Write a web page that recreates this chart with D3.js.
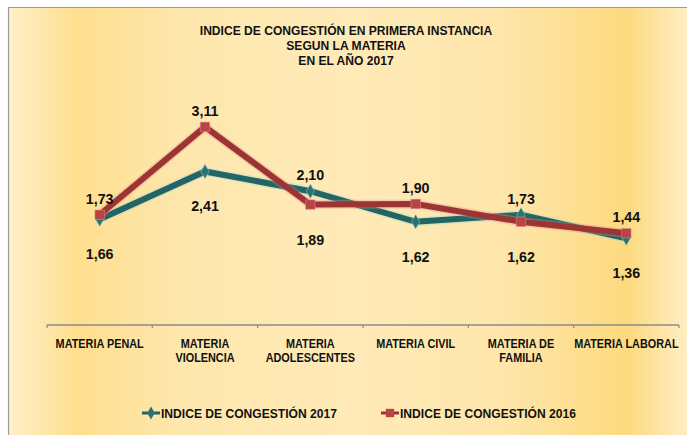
<!DOCTYPE html>
<html>
<head>
<meta charset="utf-8">
<script src="https://cdn.jsdelivr.net/npm/d3@7"></script>
<style>
  html, body { margin: 0; padding: 0; background: #fff; }
  svg text { font-family: "Liberation Sans Narrow", "Arial Narrow", "Liberation Sans", Arial, sans-serif; font-weight: bold; fill: #111; }
</style>
</head>
<body>
<div id="chart"></div>
<script>
// categories (line breaks as in the original axis)
const categories = [
    "MATERIA PENAL",
    "MATERIA\nVIOLENCIA",
    "MATERIA\nADOLESCENTES",
    "MATERIA CIVIL",
    "MATERIA DE\nFAMILIA",
    "MATERIA LABORAL"
];
const values2017 = [1.66, 2.41, 2.10, 1.62, 1.73, 1.36];
const values2016 = [1.73, 3.11, 1.89, 1.90, 1.62, 1.44];
const seriesNames = ["INDICE DE CONGESTIÓN 2017", "INDICE DE CONGESTIÓN 2016"];
const titleLines = [
    "INDICE DE CONGESTIÓN EN PRIMERA INSTANCIA",
    "SEGUN LA MATERIA",
    "EN EL AÑO 2017"
];

document.addEventListener("DOMContentLoaded", draw);

// squeeze text horizontally around its anchor x (no narrow font installed)
function narrow(x, sx) {
    return "translate(" + x * (1 - sx) + ",0) scale(" + sx + ",1)";
}

function draw() {
    const width = 687,
        height = 435;

    const svg = d3
        .select("#chart")
        .append("svg")
        .attr("width", width)
        .attr("height", height);

    // yellow gradient background, like the office chart
    const defs = svg.append("defs");
    const grad = defs
        .append("linearGradient")
        .attr("id", "bg")
        .attr("x1", "0%")
        .attr("x2", "100%")
        .attr("y1", "0%")
        .attr("y2", "0%");
    [
        [0, "#fff0c9"],
        [0.1, "#fedf8f"],
        [0.25, "#fee7ad"],
        [0.5, "#ffeab8"],
        [0.72, "#fee6ab"],
        [0.9, "#fdda7f"],
        [1, "#fff0cc"]
    ].forEach((s) => grad.append("stop").attr("offset", s[0]).attr("stop-color", s[1]));

    svg.append("rect")
        .attr("x", 8)
        .attr("y", 7)
        .attr("width", width)
        .attr("height", height)
        .attr("fill", "url(#bg)");

    // border (only top and left are visible)
    svg.append("path")
        .attr("d", "M8.5," + height + "V7.5H" + width)
        .attr("fill", "none")
        .attr("stroke", "#9a9a9a")
        .attr("stroke-width", 1.2);

    // title
    svg.append("text")
        .attr("text-anchor", "middle")
        .attr("font-size", "13.5px")
        .attr("transform", narrow(346, 0.895))
        .selectAll("tspan")
        .data(titleLines)
        .enter()
        .append("tspan")
        .attr("x", 346)
        .attr("y", (d, i) => 35 + i * 15)
        .text((d) => d);

    const x = d3.scaleBand().domain(categories).range([47, 679]);
    const y = d3.scaleLinear().domain([0, 3.5]).range([325, 102]);
    const cx = (i) => x(categories[i]) + x.bandwidth() / 2;

    // category axis
    const axis = svg.append("g").attr("transform", "translate(0,325)");
    axis.append("line")
        .attr("x1", x.range()[0])
        .attr("x2", x.range()[1])
        .attr("stroke", "#8a8a8a")
        .attr("stroke-width", 1.5);
    const edges = categories.map((c) => x(c)).concat([x.range()[1]]);
    axis.selectAll(".tick")
        .data(edges)
        .enter()
        .append("line")
        .attr("x1", (d) => d)
        .attr("x2", (d) => d)
        .attr("y1", 0)
        .attr("y2", 3)
        .attr("stroke", "#8a8a8a")
        .attr("stroke-width", 1.2);
    axis.selectAll(".cat")
        .data(categories)
        .enter()
        .append("text")
        .attr("text-anchor", "middle")
        .attr("font-size", "12.5px")
        .attr("transform", (d, i) => narrow(cx(i), 0.87))
        .each(function (d, i) {
            d3.select(this)
                .selectAll("tspan")
                .data(d.split("\n"))
                .enter()
                .append("tspan")
                .attr("x", cx(i))
                .attr("y", (t, j) => 23 + j * 14)
                .text((t) => t);
        });

    const line = d3
        .line()
        .x((d, i) => cx(i))
        .y((d) => y(d));

    const series = [
        { name: seriesNames[0], values: values2017, color: "#236565", glow: "#9fd6d2", marker: "diamond" },
        { name: seriesNames[1], values: values2016, color: "#9c3434", glow: "#e58f8f", marker: "square" }
    ];

    series.forEach((s) => {
        const g = svg.append("g");
        g.append("path")
            .datum(s.values)
            .attr("d", line)
            .attr("fill", "none")
            .attr("stroke", s.glow)
            .attr("stroke-opacity", 0.35)
            .attr("stroke-width", 9)
            .attr("stroke-linejoin", "round");
        g.append("path")
            .datum(s.values)
            .attr("d", line)
            .attr("fill", "none")
            .attr("stroke", s.color)
            .attr("stroke-width", 6)
            .attr("stroke-linejoin", "miter");
        g.selectAll(".m")
            .data(s.values)
            .enter()
            .append("path")
            .attr("transform", (d, i) => "translate(" + cx(i) + "," + y(d) + ")")
            .attr("d", s.marker === "square"
                ? d3.symbol(d3.symbolSquare, 90)
                : d3.symbol(d3.symbolDiamond, 60))
            .attr("fill", s.marker === "square" ? "#b84444" : "#2d7272")
            .attr("stroke", s.glow)
            .attr("stroke-opacity", 0.5)
            .attr("stroke-width", 1);
    });

    // data labels: higher value above the point, lower one below
    series.forEach((s, k) => {
        const other = series[1 - k].values;
        svg.append("g")
            .selectAll("text")
            .data(s.values)
            .enter()
            .append("text")
            .attr("text-anchor", "middle")
            .attr("font-size", "15.5px")
            .attr("x", (d, i) => cx(i))
            .attr("y", (d, i) => (d >= other[i] ? y(d) - 11 : y(d) + 40))
            .attr("transform", (d, i) => narrow(cx(i), 0.92))
            .text((d) => d3.format(".2f")(d).replace(".", ","));
    });

    // legend
    const legend = svg.append("g").attr("transform", "translate(0,418)");
    const legendX = [142, 381];
    series.forEach((s, i) => {
        const lg = legend.append("g").attr("transform", "translate(" + legendX[i] + ",0)");
        lg.append("line")
            .attr("x1", 0)
            .attr("x2", 18)
            .attr("y1", -5)
            .attr("y2", -5)
            .attr("stroke", s.color)
            .attr("stroke-width", 3);
        lg.append("path")
            .attr("transform", "translate(9,-5)")
            .attr("d", s.marker === "square"
                ? d3.symbol(d3.symbolSquare, 70)
                : d3.symbol(d3.symbolDiamond, 50))
            .attr("fill", s.marker === "square" ? "#b84444" : "#2d7272");
        lg.append("text")
            .attr("x", 19)
            .attr("y", 0)
            .attr("font-size", "13px")
            .attr("transform", narrow(19, 0.93))
            .text(s.name);
    });
}
</script>
</body>
</html>
